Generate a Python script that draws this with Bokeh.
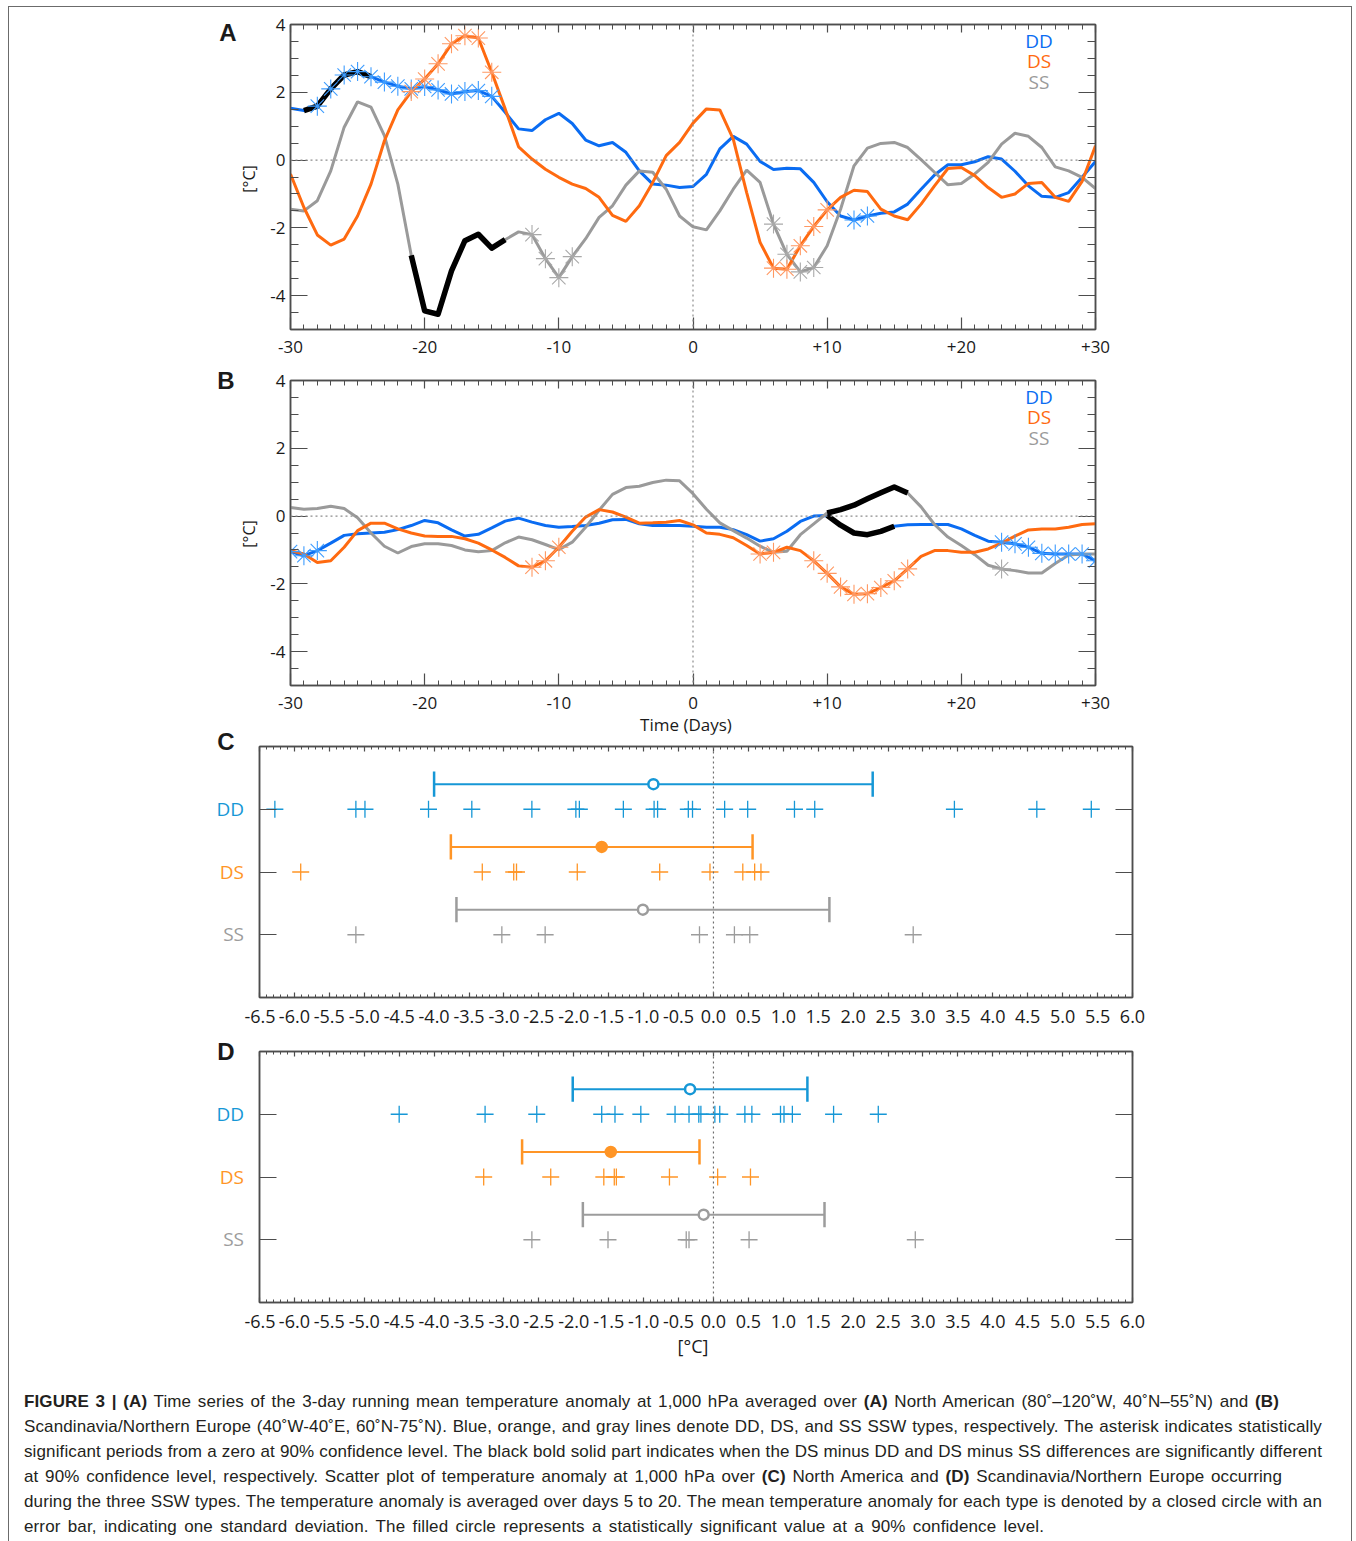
import numpy as np
from bokeh.plotting import figure
from bokeh.models import (FixedTicker, LinearAxis, Range1d, Span, Label,
                          CustomJSTickFormatter, Div)
from bokeh.layouts import column, row
from bokeh.embed import file_html
from bokeh.resources import INLINE

# ---------------------------------------------------------------- data
types = ["DD", "DS", "SS"]
days = list(range(-30, 31))

# (A) North America, 3-day running mean T anomaly at 1000 hPa [degC]
a_dd = [1.53, 1.46, 1.59, 2.10, 2.51, 2.61, 2.46, 2.30, 2.18, 2.10, 2.17, 2.07, 1.95, 2.02, 2.05,
        1.88, 1.41, 0.92, 0.87, 1.19, 1.38, 1.08, 0.59, 0.42, 0.52, 0.23, -0.32, -0.71, -0.74,
        -0.81, -0.78,
        -0.42, 0.33, 0.70, 0.47, -0.04, -0.28, -0.24, -0.26, -0.66, -1.23, -1.65, -1.77, -1.65,
        -1.57, -1.53, -1.30, -0.86, -0.44, -0.14, -0.14, -0.05, 0.10, 0.03, -0.33, -0.76, -1.07,
        -1.10, -0.96, -0.51, -0.04]
a_ds = [-0.41, -1.40, -2.21, -2.51, -2.33, -1.65, -0.71, 0.57, 1.48, 2.02, 2.39, 2.84, 3.43, 3.67,
        3.60, 2.59, 1.51, 0.39, 0.03, -0.27, -0.51, -0.71, -0.84, -1.10, -1.63, -1.81, -1.35,
        -0.66, 0.13,
        0.52, 1.09,
        1.51, 1.48, 0.62, -0.96, -2.43, -3.19, -3.22, -2.53, -1.96, -1.47, -1.10, -0.89, -0.93,
        -1.45, -1.65, -1.76, -1.30, -0.76, -0.25, -0.22, -0.46, -0.81, -1.10, -1.00, -0.69, -0.66,
        -1.10, -1.22, -0.63, 0.42]
a_ss = [-1.45, -1.50, -1.20, -0.32, 0.97, 1.72, 1.56, 0.72, -0.71, -2.81, -4.45, -4.55, -3.27,
        -2.38, -2.19, -2.60, -2.35, -2.12, -2.20, -2.91, -3.47, -2.85, -2.32, -1.69, -1.35, -0.74,
        -0.32, -0.36, -0.86,
        -1.65, -1.97,
        -2.06, -1.50, -0.86, -0.30, -0.66, -1.89, -2.78, -3.30, -3.17, -2.53, -1.45, -0.17, 0.35,
        0.49, 0.52, 0.37, 0.01, -0.36, -0.73, -0.69, -0.41, -0.07, 0.47, 0.79, 0.70, 0.37, -0.20,
        -0.32, -0.51, -0.84]

# (B) Scandinavia / Northern Europe
b_dd = [-1.05, -1.17, -1.02, -0.80, -0.57, -0.52, -0.50, -0.48, -0.40, -0.28, -0.13, -0.20, -0.41,
        -0.59, -0.54, -0.35, -0.15, -0.06, -0.18, -0.28, -0.33, -0.31, -0.28, -0.21, -0.11, -0.10,
        -0.23, -0.28, -0.28,
        -0.28, -0.30,
        -0.33, -0.33, -0.40, -0.55, -0.74, -0.67, -0.45, -0.16, 0.00, 0.02, -0.27, -0.50, -0.55,
        -0.45, -0.30, -0.26, -0.25, -0.25, -0.25, -0.38, -0.57, -0.74, -0.77, -0.82, -0.92, -1.10,
        -1.12, -1.12, -1.12, -1.32]
b_ds = [-1.02, -1.12, -1.37, -1.32, -0.92, -0.43, -0.21, -0.21, -0.38, -0.50, -0.59, -0.60, -0.60,
        -0.67, -0.80, -1.00, -1.22, -1.47, -1.51, -1.32, -0.92, -0.45, -0.03, 0.19, 0.12, -0.03,
        -0.21, -0.20, -0.18,
        -0.13, -0.26,
        -0.50, -0.54, -0.64, -0.87, -1.12, -1.07, -0.92, -1.02, -1.32, -1.69, -2.09, -2.31, -2.29,
        -2.11, -1.91, -1.56, -1.19, -1.02, -1.02, -1.07, -1.07, -0.97, -0.80, -0.59, -0.41, -0.38,
        -0.38, -0.33, -0.25, -0.23]
b_ss = [0.25, 0.20, 0.22, 0.29, 0.22, -0.05, -0.50, -0.89, -1.09, -0.90, -0.82, -0.82, -0.87,
        -1.00, -1.05, -1.02, -0.79, -0.62, -0.70, -0.84, -0.99, -0.77, -0.33, 0.17, 0.64, 0.84,
        0.88, 0.99, 1.06,
        1.04, 0.66,
        0.20, -0.20, -0.43, -0.65, -0.89, -1.07, -1.04, -0.55, -0.23, 0.09, 0.19, 0.32, 0.51,
        0.69, 0.86, 0.68, 0.27, -0.25, -0.62, -0.87, -1.14, -1.45, -1.56, -1.61, -1.68, -1.68,
        -1.40, -1.15, -1.12, -1.12]

# days significantly different from zero (asterisks)
a_sig = {"DD": list(range(-28, -14)) + [12, 13],
         "DS": list(range(-21, -14)) + [6, 7, 8, 9, 10],
         "SS": [-12, -11, -10, -9, 6, 7, 8, 9]}
b_sig = {"DD": [-30, -29, -28] + list(range(23, 31)),
         "DS": [-12, -11, -10, 5, 6] + list(range(9, 17)),
         "SS": [23]}
# spans where the type differences are significant (bold black)
a_bold = {"DD": (-29, -24), "SS": (-21, -14)}
b_bold = {"DD": (10, 15), "SS": (10, 16)}

# (C) North America, (D) Scandinavia: event anomalies averaged over days 5-20
c_pts = {"DD": [-6.28, -5.12, -4.99, -4.08, -3.46, -2.60, -1.97, -1.92, -1.29, -0.85, -0.80,
                -0.36, -0.30, 0.16, 0.49, 1.16, 1.45, 3.45, 4.63, 5.41],
         "DS": [-5.91, -3.31, -2.86, -2.82, -1.95, -0.77, -0.05, 0.42, 0.59, 0.68],
         "SS": [-5.12, -3.03, -2.41, -0.20, 0.30, 0.52, 2.86]}
c_mean = [-0.86, -1.60, -1.01]
c_sd = [3.14, 2.16, 2.67]
d_pts = {"DD": [-4.50, -3.27, -2.53, -1.60, -1.41, -1.04, -0.55, -0.35, -0.21, -0.18, 0.02, 0.09,
                0.45, 0.55, 0.96, 1.01, 1.13, 1.72, 2.36],
         "DS": [-3.29, -2.33, -1.57, -1.42, -1.39, -0.63, 0.06, 0.53],
         "SS": [-2.60, -1.51, -0.39, -0.35, 0.51, 2.89]}
d_mean = [-0.335, -1.47, -0.14]
d_sd = [1.68, 1.27, 1.73]
mean_significant = [False, True, False]
row_of = {"DD": 3, "DS": 2, "SS": 1}

ts_xticks = [-30, -20, -10, 0, 10, 20, 30]
ts_yticks = [-4, -2, 0, 2, 4]
sc_xticks = [-6.5, -6.0, -5.5, -5.0, -4.5, -4.0, -3.5, -3.0, -2.5, -2.0, -1.5, -1.0, -0.5, 0.0,
             0.5, 1.0, 1.5, 2.0, 2.5, 3.0, 3.5, 4.0, 4.5, 5.0, 5.5, 6.0]

caption_lines = [
    "<b>FIGURE 3 | (A)</b> Time series of the 3-day running mean temperature anomaly at 1,000 hPa averaged over <b>(A)</b> North American (80\u02da\u2013120\u02daW, 40\u02daN\u201355\u02daN) and <b>(B)</b>",
    "Scandinavia/Northern Europe (40\u02daW-40\u02daE, 60\u02daN-75\u02daN). Blue, orange, and gray lines denote DD, DS, and SS SSW types, respectively. The asterisk indicates statistically",
    "significant periods from a zero at 90% confidence level. The black bold solid part indicates when the DS minus DD and DS minus SS differences are significantly different",
    "at 90% confidence level, respectively. Scatter plot of temperature anomaly at 1,000 hPa over <b>(C)</b> North America and <b>(D)</b> Scandinavia/Northern Europe occurring",
    "during the three SSW types. The temperature anomaly is averaged over days 5 to 20. The mean temperature anomaly for each type is denoted by a closed circle with an",
    "error bar, indicating one standard deviation. The filled circle represents a statistically significant value at a 90% confidence level.",
]
caption_widths = [1255, 1298, 1298, 1258, 1298, 1020]

# ---------------------------------------------------------------- style
W = 1342
FONT = "Open Sans"
FRAME = "#4d4d4d"
INK = "#1a1a1a"
ts_color = {"DD": "#0a6cf2", "DS": "#ff6a10", "SS": "#9a9a9a"}
ts_star = {"DD": "#3d9cff", "DS": "#ff9862", "SS": "#a9a9a9"}
sc_color = {"DD": "#1697d6", "DS": "#ff9526", "SS": "#9c9c9c"}
blank = CustomJSTickFormatter(code="return ''")


def style_axis(ax, major_in, minor_in, fmt=None, size="17px", standoff=6):
    ax.axis_line_color = FRAME
    ax.axis_line_width = 1.5
    ax.major_tick_in = major_in
    ax.major_tick_out = 0
    ax.minor_tick_in = minor_in
    ax.minor_tick_out = 0
    ax.major_tick_line_color = FRAME
    ax.minor_tick_line_color = FRAME
    ax.major_tick_line_width = 1.2
    ax.minor_tick_line_width = 1.0
    if fmt is None:
        ax.formatter = blank
        ax.major_label_text_font_size = "0px"
        ax.major_label_standoff = 0
    else:
        ax.formatter = fmt
        ax.major_label_text_font = FONT
        ax.major_label_text_font_size = size
        ax.major_label_text_color = INK
        ax.major_label_standoff = standoff


def base_fig(width, height, xr, yr, left, right, top, bottom):
    p = figure(width=width, height=height, x_range=Range1d(*xr), y_range=Range1d(*yr),
               output_backend="svg", toolbar_location=None,
               min_border_left=left, min_border_right=right,
               min_border_top=top, min_border_bottom=bottom,
               background_fill_color="white", border_fill_color="white")
    p.frame_align = False
    p.grid.visible = False
    p.outline_line_color = FRAME
    p.outline_line_width = 1.5
    return p


def label(p, s, x, y, dx=0, dy=0, color=INK, size="19px"):
    p.add_layout(Label(x=x, y=y, x_offset=dx, y_offset=dy, text=s, text_color=color,
                       text_font=FONT, text_font_size=size,
                       text_align="center", text_baseline="middle"))


def span_html(s, x, y, size, color=INK, font=FONT, weight="normal", anchor="center", rot=0):
    tx = "-50%" if anchor == "center" else "-100%"
    tr = f"translate({tx},-50%)" + (f" rotate({rot}deg)" if rot else "")
    return (f'<span style="position:absolute;left:{x}px;top:{y}px;transform:{tr};'
            f'white-space:nowrap;font-family:\'{font}\';font-size:{size};font-weight:{weight};'
            f'color:{color};line-height:1;">{s}</span>')


def overlay(width, height, spans):
    html = (f'<div style="position:relative;width:{width}px;height:{height}px;">'
            + "".join(spans) + "</div>")
    return Div(text=html, width=width, height=height, margin=0,
               styles={"overflow": "visible"})


ts_fmt = CustomJSTickFormatter(code="return tick > 0 ? '+' + tick.toFixed(0) : tick.toFixed(0)")
int_fmt = CustomJSTickFormatter(code="return tick.toFixed(0)")
sc_fmt = CustomJSTickFormatter(code="return tick.toFixed(1)")

TS_LEFT = 255


def time_series(series, sig, bold, height, top, bottom):
    p = base_fig(W - TS_LEFT, height, (-30, 30), (-5, 4), 281 - TS_LEFT, 256, top, bottom)
    xt = FixedTicker(ticks=ts_xticks, minor_ticks=days)
    yt = FixedTicker(ticks=ts_yticks, minor_ticks=list(np.arange(-5, 4.01, 0.5)))
    p.xaxis[0].ticker = xt
    p.yaxis[0].ticker = yt
    style_axis(p.xaxis[0], 12, 5, ts_fmt, "17px", 11)
    style_axis(p.yaxis[0], 17, 8, int_fmt, "17px", 5)
    top_ax = LinearAxis(ticker=xt)
    right_ax = LinearAxis(ticker=yt)
    style_axis(top_ax, 8, 5)
    style_axis(right_ax, 17, 8)
    p.add_layout(top_ax, "above")
    p.add_layout(right_ax, "right")

    p.add_layout(Span(location=0, dimension="width", line_color="#8c8c8c",
                      line_dash="2 3", line_width=1.2))
    p.add_layout(Span(location=0, dimension="height", line_color="#8c8c8c",
                      line_dash="2 3", line_width=1.2))

    for t in ["DD", "SS", "DS"]:
        p.line(days, series[t], line_color=ts_color[t], line_width=3)
    for t, (d0, d1) in bold.items():
        i0, i1 = d0 + 30, d1 + 30
        p.line(days[i0:i1 + 1], series[t][i0:i1 + 1], line_color="black", line_width=5.5,
               line_join="round")
    for t in ["DD", "SS", "DS"]:
        xs = sig[t]
        ys = [series[t][d + 30] for d in xs]
        p.scatter(xs, ys, marker="asterisk", size=19, line_color=ts_star[t], line_width=1.1)

    for k, t in enumerate(types):
        label(p, t, 30, 4, dx=-56.5, dy=-16.5 - 20.3 * k, color=ts_color[t], size="19px")
    return p


# row A: page y 7..366
hA = 359
pA = time_series({"DD": a_dd, "DS": a_ds, "SS": a_ss}, a_sig, a_bold, hA, 17, 37)
lA = overlay(TS_LEFT, hA, [
    span_html("A", 219, 26, "24px", font="Liberation Sans", weight="bold"),
    span_html("[\u00b0C]", 239.5, 171.5, "16px", rot=-90)])

# row B: page y 366..717
hB = 351
pB = time_series({"DD": b_dd, "DS": b_ds, "SS": b_ss}, b_sig, b_bold, hB, 14, 32)
lB = overlay(TS_LEFT, hB, [
    span_html("B", 217, 15, "24px", font="Liberation Sans", weight="bold"),
    span_html("[\u00b0C]", 239.5, 168, "16px", rot=-90)])

# x title of (B): page y 717..734
tB = overlay(W, 17, [span_html("Time (Days)", 677, 7, "17px")])

SC_LEFT = 235


def scatter_panel(pts, means, sds, height, top, bottom):
    p = base_fig(W - SC_LEFT, height, (-6.5, 6.0), (0, 4), 250 - SC_LEFT, 219, top, bottom)
    xt = FixedTicker(ticks=sc_xticks, minor_ticks=list(np.round(np.arange(-6.5, 6.01, 0.1), 2)))
    yt = FixedTicker(ticks=[1, 2, 3], minor_ticks=[])
    p.xaxis[0].ticker = xt
    p.yaxis[0].ticker = yt
    style_axis(p.xaxis[0], 5, 3, sc_fmt, "18px", 12)
    style_axis(p.yaxis[0], 17, 0)
    top_ax = LinearAxis(ticker=xt)
    right_ax = LinearAxis(ticker=yt)
    style_axis(top_ax, 5, 3)
    style_axis(right_ax, 17, 0)
    p.add_layout(top_ax, "above")
    p.add_layout(right_ax, "right")
    p.add_layout(Span(location=0, dimension="height", line_color="#6e6e6e",
                      line_dash="2 3", line_width=1.2))

    for k, t in enumerate(types):
        rw = row_of[t]
        col = sc_color[t]
        xs = pts[t]
        p.scatter(xs, [rw] * len(xs), marker="cross", size=17, line_color=col, line_width=1.3)
        lo, hi = means[k] - sds[k], means[k] + sds[k]
        yb = rw + 0.4
        p.segment(x0=[lo], y0=[yb], x1=[hi], y1=[yb], line_color=col, line_width=2)
        p.segment(x0=[lo, hi], y0=[yb - 0.2, yb - 0.2], x1=[lo, hi], y1=[yb + 0.2, yb + 0.2],
                  line_color=col, line_width=2.5)
        p.scatter([means[k]], [yb], marker="circle", size=10, line_color=col, line_width=2.5,
                  fill_color=col if mean_significant[k] else "white")
    return p


def row_labels(frame_top):
    # rows sit at y = 3, 2, 1 on a 0..4 axis spanning 251 px
    return [span_html(t, 235, frame_top + (4 - row_of[t]) * 62.75, "19px",
                      color=sc_color[t], anchor="right") for t in types]


# row C: page y 734..1036
hC = 302
pC = scatter_panel(c_pts, c_mean, c_sd, hC, 12, 39)
lC = overlay(SC_LEFT, hC, [span_html("C", 217, 7.5, "24px", font="Liberation Sans",
                                     weight="bold")] + row_labels(12))

# row D: page y 1036..1336
hD = 300
pD = scatter_panel(d_pts, d_mean, d_sd, hD, 15, 34)
lD = overlay(SC_LEFT, hD, [span_html("D", 217, 16, "24px", font="Liberation Sans",
                                     weight="bold")] + row_labels(15))

# x title of (D): page y 1336..1360
tD = overlay(W, 24, [span_html("[\u00b0C]", 684, 10, "18px")])

cap_html = "".join(
    f'<div style="width:{w}px;text-align:justify;text-align-last:justify;white-space:nowrap;">{s}</div>'
    for s, w in zip(caption_lines, caption_widths))
caption = Div(
    text=('<div style="padding:29px 0 0 15px;'
          'font-family:\'Liberation Sans\',sans-serif;font-size:17px;letter-spacing:0.12px;'
          'line-height:25px;color:#231f20;">' + cap_html + "</div>"),
    width=W, height=181, margin=0)

root = column(row(lA, pA, spacing=0), row(lB, pB, spacing=0), tB,
              row(lC, pC, spacing=0), row(lD, pD, spacing=0), tD, caption,
              spacing=0, margin=(6, 0, 0, 8), width=W + 2, height=1535,
              sizing_mode="fixed",
              styles={"border-top": "1px solid #6b6b6b", "border-left": "1px solid #6b6b6b",
                      "border-right": "1px solid #6b6b6b"})

open("out.html", "w").write(file_html(root, INLINE, title="Figure 3"))
